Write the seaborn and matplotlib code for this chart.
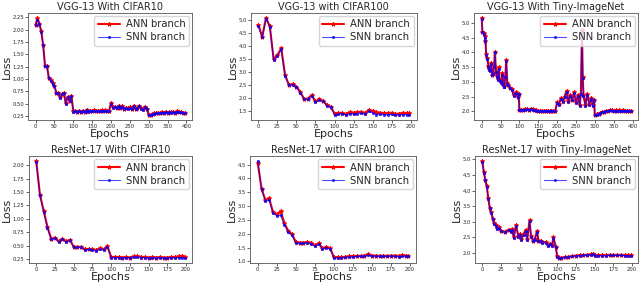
import numpy as np
import pandas as pd
import matplotlib
matplotlib.use("Agg")
import matplotlib.pyplot as plt
import seaborn as sns

sns.set_theme(style="white")
plt.rcParams["font.family"] = ["DejaVu Sans"]

# ----------------------------------
# Data
# ----------------------------------
titles = ["VGG-13 With CIFAR10", "VGG-13 with CIFAR100", "VGG-13 With Tiny-ImageNet",
          "ResNet-17 With CIFAR10", "ResNet-17 with CIFAR100", "ResNet-17 with Tiny-ImageNet"]

ep_400 = list(range(0, 400, 5))
ep_200 = list(range(0, 200, 5)) + [198]

vgg_c10_ann = [2.10, 2.24, 2.12, 1.97, 1.69, 1.27, 1.27, 1.03, 0.98, 0.91,
               0.86, 0.72, 0.72, 0.63, 0.70, 0.72, 0.51, 0.64, 0.56, 0.66,
               0.35, 0.36, 0.33, 0.36, 0.34, 0.36, 0.33, 0.38, 0.35, 0.36,
               0.35, 0.37, 0.35, 0.36, 0.36, 0.37, 0.36, 0.37, 0.35, 0.36,
               0.52, 0.43, 0.44, 0.42, 0.46, 0.41, 0.45, 0.40, 0.42, 0.41,
               0.43, 0.40, 0.46, 0.39, 0.42, 0.46, 0.41, 0.39, 0.44, 0.40,
               0.28, 0.28, 0.30, 0.31, 0.31, 0.32, 0.31, 0.33, 0.32, 0.34,
               0.32, 0.33, 0.33, 0.34, 0.32, 0.35, 0.34, 0.33, 0.32, 0.32]
vgg_c10_snn = [2.09, 2.20, 2.11, 1.96, 1.68, 1.26, 1.26, 1.02, 0.97, 0.90,
               0.85, 0.71, 0.71, 0.62, 0.69, 0.71, 0.50, 0.63, 0.55, 0.65,
               0.34, 0.35, 0.33, 0.35, 0.33, 0.35, 0.33, 0.37, 0.34, 0.35,
               0.35, 0.36, 0.35, 0.35, 0.36, 0.36, 0.35, 0.36, 0.35, 0.35,
               0.50, 0.42, 0.43, 0.42, 0.45, 0.41, 0.44, 0.40, 0.41, 0.40,
               0.42, 0.40, 0.45, 0.39, 0.41, 0.45, 0.40, 0.38, 0.43, 0.39,
               0.27, 0.28, 0.29, 0.30, 0.31, 0.31, 0.31, 0.32, 0.32, 0.33,
               0.32, 0.33, 0.32, 0.33, 0.32, 0.34, 0.33, 0.33, 0.31, 0.31]

vgg_c100_ann = [4.82, 4.35, 5.08, 4.75, 3.50, 3.65, 3.92, 2.90, 2.52, 2.55,
                2.45, 2.25, 1.98, 1.99, 2.13, 1.88, 1.97, 1.90, 1.75, 1.68,
                1.42, 1.45, 1.44, 1.40, 1.48, 1.45, 1.47, 1.49, 1.44, 1.56,
                1.50, 1.46, 1.45, 1.44, 1.44, 1.45, 1.40, 1.42, 1.45, 1.44, 1.43]
vgg_c100_snn = [4.75, 4.33, 5.05, 4.73, 3.48, 3.63, 3.87, 2.85, 2.50, 2.52,
                2.43, 2.22, 1.97, 1.97, 2.08, 1.85, 1.93, 1.88, 1.72, 1.66,
                1.38, 1.40, 1.41, 1.37, 1.42, 1.40, 1.42, 1.44, 1.40, 1.50,
                1.45, 1.38, 1.40, 1.38, 1.38, 1.39, 1.36, 1.37, 1.38, 1.38, 1.37]

vgg_tiny_ep = ([0, 2, 5, 8, 10, 12, 15, 18, 20, 23, 25, 28, 30, 33, 35, 38, 40, 43, 45, 48,
                50, 53, 55, 58, 60, 63, 65, 68, 70, 75, 80, 85, 90, 95, 98]
               + list(range(100, 200, 5))
               + [200, 205, 210, 215, 220, 225, 230, 235, 240, 245, 250, 255, 260, 263,
                  266, 268, 270, 275, 280, 285, 290, 295, 298]
               + list(range(300, 400, 5)))
vgg_tiny_ann = ([5.18, 4.70, 4.65, 4.55, 4.40, 3.95, 3.80, 3.55, 3.45, 3.40, 3.65, 3.25,
                 3.30, 3.55, 4.02, 3.35, 3.20, 3.10, 3.50, 3.05, 3.00, 2.95, 3.30, 2.85,
                 2.85, 3.20, 3.75, 2.95, 2.90, 2.80, 2.75, 2.55, 2.65, 2.50, 2.60]
                + [2.05, 2.06, 2.05, 2.07, 2.08, 2.06, 2.09, 2.07, 2.06, 2.03,
                   2.01, 2.02, 2.02, 2.01, 2.02, 2.02, 2.01, 2.02, 2.02, 2.01]
                + [2.30, 2.25, 2.45, 2.35, 2.50, 2.70, 2.35, 2.55, 2.40, 2.65, 2.30, 2.55,
                   2.20, 2.60, 4.75, 3.15, 2.55, 2.20, 2.60, 2.25, 2.45, 2.20, 2.40]
                + [1.88, 1.90, 1.92, 1.95, 1.97, 1.99, 2.01, 2.02, 2.04, 2.03,
                   2.02, 2.03, 2.02, 2.03, 2.02, 2.03, 2.02, 2.02, 2.02, 2.01])
vgg_tiny_snn = ([5.15, 4.68, 4.62, 4.50, 4.38, 3.92, 3.78, 3.52, 3.42, 3.38, 3.62, 3.22,
                 3.28, 3.50, 4.00, 3.32, 3.18, 3.08, 3.45, 3.02, 2.98, 2.92, 3.25, 2.82,
                 2.83, 3.15, 3.72, 2.92, 2.88, 2.78, 2.73, 2.53, 2.63, 2.48, 2.58]
                + [2.04, 2.05, 2.04, 2.06, 2.07, 2.05, 2.08, 2.06, 2.05, 2.02,
                   2.00, 2.01, 2.01, 2.00, 2.01, 2.01, 2.00, 2.01, 2.01, 2.00]
                + [2.28, 2.23, 2.42, 2.33, 2.48, 2.66, 2.33, 2.52, 2.38, 2.62, 2.28, 2.52,
                   2.18, 2.58, 4.70, 3.12, 2.52, 2.18, 2.57, 2.23, 2.42, 2.18, 2.38]
                + [1.87, 1.89, 1.91, 1.94, 1.96, 1.98, 2.00, 2.01, 2.03, 2.02,
                   2.01, 2.02, 2.01, 2.02, 2.01, 2.02, 2.01, 2.01, 2.01, 2.00])

res_c10_ann = [2.08, 1.45, 1.15, 0.85, 0.63, 0.65, 0.58, 0.63, 0.58, 0.61,
               0.48, 0.48, 0.48, 0.43, 0.44, 0.43, 0.42, 0.45, 0.43, 0.49,
               0.29, 0.29, 0.29, 0.28, 0.29, 0.28, 0.30, 0.30, 0.29, 0.29,
               0.28, 0.29, 0.28, 0.29, 0.28, 0.28, 0.29, 0.29, 0.30, 0.30, 0.29]
res_c10_snn = [2.07, 1.44, 1.13, 0.83, 0.62, 0.64, 0.57, 0.62, 0.57, 0.60,
               0.47, 0.47, 0.47, 0.42, 0.43, 0.42, 0.41, 0.44, 0.42, 0.48,
               0.28, 0.28, 0.28, 0.27, 0.28, 0.28, 0.29, 0.29, 0.28, 0.28,
               0.27, 0.28, 0.27, 0.28, 0.27, 0.27, 0.28, 0.27, 0.28, 0.28, 0.28]

res_c100_ann = [4.55, 3.62, 3.22, 3.28, 2.78, 2.70, 2.82, 2.38, 2.10, 1.98,
                1.70, 1.68, 1.68, 1.70, 1.67, 1.58, 1.65, 1.48, 1.52, 1.48,
                1.15, 1.15, 1.15, 1.16, 1.18, 1.18, 1.20, 1.20, 1.21, 1.25,
                1.21, 1.21, 1.20, 1.20, 1.20, 1.21, 1.21, 1.20, 1.22, 1.21, 1.20]
res_c100_snn = [4.63, 3.60, 3.18, 3.22, 2.74, 2.65, 2.66, 2.33, 2.05, 1.94,
                1.66, 1.65, 1.66, 1.68, 1.64, 1.55, 1.62, 1.45, 1.49, 1.46,
                1.12, 1.13, 1.13, 1.14, 1.16, 1.16, 1.18, 1.18, 1.19, 1.22,
                1.19, 1.19, 1.18, 1.18, 1.18, 1.19, 1.19, 1.17, 1.18, 1.18, 1.18]

res_tiny_ep = [0, 2, 4, 6, 8, 10, 12, 14, 16, 18, 20, 22, 25, 30, 35, 38, 40, 42, 45, 48,
               50, 52, 55, 58, 60, 63, 65, 68, 70, 73, 75, 78, 80, 85, 88, 90, 93, 95, 98,
               100, 102, 105, 110, 115, 120, 125, 130, 135, 140, 145, 148, 150, 155, 160,
               165, 170, 175, 180, 185, 190, 195, 198]
res_tiny_ann = [4.95, 4.60, 4.35, 4.15, 3.75, 3.45, 3.30, 3.10, 2.95, 2.90, 2.80, 2.82,
                2.72, 2.68, 2.75, 2.70, 2.78, 2.50, 2.90, 2.55, 2.60, 2.45, 2.60, 2.75,
                2.45, 3.05, 2.55, 2.40, 2.45, 2.70, 2.40, 2.40, 2.35, 2.35, 2.25, 2.30,
                2.25, 2.50, 2.20, 1.90, 1.85, 1.85, 1.87, 1.88, 1.90, 1.92, 1.93, 1.94,
                1.94, 1.96, 1.98, 1.93, 1.93, 1.93, 1.93, 1.94, 1.94, 1.94, 1.94, 1.93,
                1.93, 1.93]
res_tiny_snn = [4.93, 4.57, 4.33, 4.12, 3.72, 3.43, 3.28, 3.08, 2.93, 2.88, 2.78, 2.80,
                2.70, 2.66, 2.73, 2.68, 2.75, 2.48, 2.87, 2.53, 2.58, 2.43, 2.57, 2.72,
                2.43, 3.02, 2.53, 2.38, 2.43, 2.67, 2.38, 2.38, 2.33, 2.33, 2.23, 2.28,
                2.23, 2.47, 2.18, 1.88, 1.84, 1.84, 1.86, 1.87, 1.89, 1.91, 1.92, 1.93,
                1.93, 1.95, 1.97, 1.92, 1.92, 1.92, 1.92, 1.93, 1.93, 1.93, 1.93, 1.92,
                1.92, 1.92]

panels = [
    (ep_400, vgg_c10_ann, vgg_c10_snn),
    (ep_200, vgg_c100_ann, vgg_c100_snn),
    (vgg_tiny_ep, vgg_tiny_ann, vgg_tiny_snn),
    (ep_200, res_c10_ann, res_c10_snn),
    (ep_200, res_c100_ann, res_c100_snn),
    (res_tiny_ep, res_tiny_ann, res_tiny_snn),
]

# axes boxes [left, bottom, width, height] in figure fractions
boxes = [
    [0.044, 0.582, 0.256, 0.373],
    [0.392, 0.582, 0.259, 0.373],
    [0.741, 0.582, 0.256, 0.373],
    [0.045, 0.084, 0.255, 0.372],
    [0.391, 0.084, 0.259, 0.372],
    [0.742, 0.084, 0.255, 0.372],
]

fig = plt.figure(figsize=(6.4, 2.87), dpi=100)

for i, (ep, ann, snn) in enumerate(panels):
    ax = fig.add_axes(boxes[i])
    sns.lineplot(x=ep, y=ann, ax=ax, color="red", linewidth=1.5, marker="*",
                 markersize=3, markeredgecolor="red", label="ANN branch")
    sns.lineplot(x=ep, y=snn, ax=ax, color="blue", linewidth=0.8, alpha=0.7,
                 marker=".", markersize=3, markeredgecolor="blue", label="SNN branch")
    ax.set_title(titles[i], fontsize=7, pad=2)
    ax.set_xlabel("Epochs", fontsize=8, labelpad=0)
    ax.set_ylabel("Loss", fontsize=8, labelpad=0.5)
    ax.tick_params(axis="both", labelsize=3.8, length=2, width=0.5, pad=1,
                   left=True, bottom=True)
    if i in (0, 3):
        ax.yaxis.set_major_formatter(matplotlib.ticker.FormatStrFormatter("%.2f"))
    for s in ax.spines.values():
        s.set_color("#555555")
        s.set_linewidth(0.6)
    ax.legend(loc="upper right", fontsize=7.2, handlelength=2.2, borderpad=0.35,
              labelspacing=0.3, handletextpad=0.6, borderaxespad=0.3)

fig.savefig("out.png", dpi=100)
